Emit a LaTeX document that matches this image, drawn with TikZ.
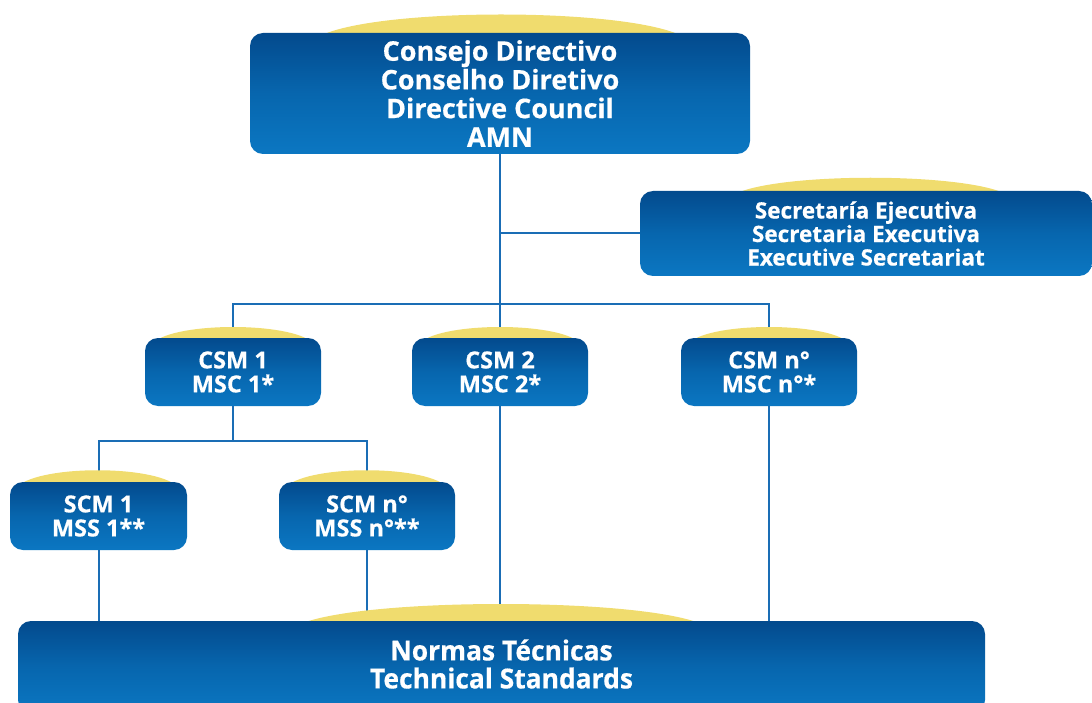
\documentclass[tikz,border=0pt]{standalone}
\usepackage{fontspec}
\setmainfont{Open Sans}[BoldFeatures={FakeBold=0.5}]
\newfontfamily\condfont{Open Sans}[FakeStretch=0.96,BoldFeatures={FakeBold=0.5}]
\usetikzlibrary{calc}
\definecolor{bluetop}{HTML}{034A8D}
\definecolor{bluemid}{HTML}{0766AE}
\definecolor{bluebot}{HTML}{0B77C2}
\definecolor{connc}{HTML}{1A6DB5}
\definecolor{capc}{HTML}{F0DC6E}
\pgfdeclarelayer{bg}
\pgfdeclarelayer{capl}
\pgfsetlayers{bg,capl,main}
\tikzset{
  box/.style={rounded corners=13pt, top color=bluetop, bottom color=bluebot, middle color=bluemid,
    text=white, align=center, inner sep=0pt, font=\bfseries},
  smallbox/.style={box, minimum width=176pt, minimum height=68pt, font=\bfseries\fontsize{23.5}{24}\selectfont},
  conn/.style={draw=connc, line width=2pt},
  capfill/.style={fill=capc}
}
\begin{document}
\begin{tikzpicture}[x=1pt,y=-1pt]
\useasboundingbox (0,0) rectangle (1092,703);
\clip (0,0) rectangle (1092,703);
% nodes
\node[box, minimum width=500pt, minimum height=121pt, font=\bfseries\fontsize{27}{28.7}\selectfont] (top) at (500,93.5)
  {Consejo Directivo\\Conselho Diretivo\\Directive Council\\AMN};
\node[box, minimum width=452pt, minimum height=85pt, font=\bfseries\fontsize{22.5}{23.5}\selectfont] (sec) at (866,233.5)
  {Secretaría Ejecutiva\\Secretaria Executiva\\Executive Secretariat};
\node[smallbox] (csm1) at (233,372) {CSM 1\\MSC 1*};
\node[smallbox] (csm2) at (500,372) {CSM 2\\MSC 2*};
\node[smallbox] (csmn) at (769,372) {CSM n°\\MSC n°*};
\node[smallbox, minimum width=177pt] (scm1) at (98.5,516) {SCM 1\\MSS 1**};
\node[smallbox] (scmn) at (367,516) {SCM n°\\MSS n°**};
\node[box, minimum width=967pt, minimum height=92pt, font=\condfont\bfseries\fontsize{27.5}{28}\selectfont] (norm) at (501.5,667)
  {\raisebox{3pt}[\height][\depth]{\parbox{600pt}{\centering Normas Técnicas\\Technical Standards}}};
% connectors
\begin{pgfonlayer}{bg}
  \coordinate (bar) at (500,304);
  \draw[conn] (top.south) -- (bar);
  \draw[conn] (top.south |- sec.west) -- (sec.west);
  \draw[conn] (csm1.north) |- (bar) -| (csmn.north);
  \draw[conn] (bar) -- (csm2.north);
  \draw[conn] (csm1.south) -- ++(0,35) coordinate (j3);
  \draw[conn] (scm1.north) |- (j3) -| (scmn.north);
  \draw[conn] (scm1.south) -- (scm1.south |- norm.north);
  \draw[conn] (scmn.south) -- (scmn.south |- norm.north);
  \draw[conn] (csm2.south) -- (csm2.south |- norm.north);
  \draw[conn] (csmn.south) -- (csmn.south |- norm.north);
\end{pgfonlayer}
% yellow caps
\begin{pgfonlayer}{capl}
  \fill[capfill] (318,37) .. controls (372,7) and (630,7) .. (684,37) -- cycle;
  \fill[capfill] (733,195) .. controls (774,172) and (967,172) .. (1008,195) -- cycle;
  \fill[capfill] (154,342) .. controls (178,322) and (288,322) .. (312,342) -- cycle;
  \fill[capfill] (421,342) .. controls (445,322) and (555,322) .. (579,342) -- cycle;
  \fill[capfill] (690,342) .. controls (714,322) and (824,322) .. (848,342) -- cycle;
  \fill[capfill] (18,486) .. controls (42,465) and (153,465) .. (177,486) -- cycle;
  \fill[capfill] (287,486) .. controls (311,465) and (422,465) .. (446,486) -- cycle;
  \fill[capfill] (298,625) .. controls (358,597) and (644,597) .. (704,625) -- cycle;
\end{pgfonlayer}
\end{tikzpicture}
\end{document}
